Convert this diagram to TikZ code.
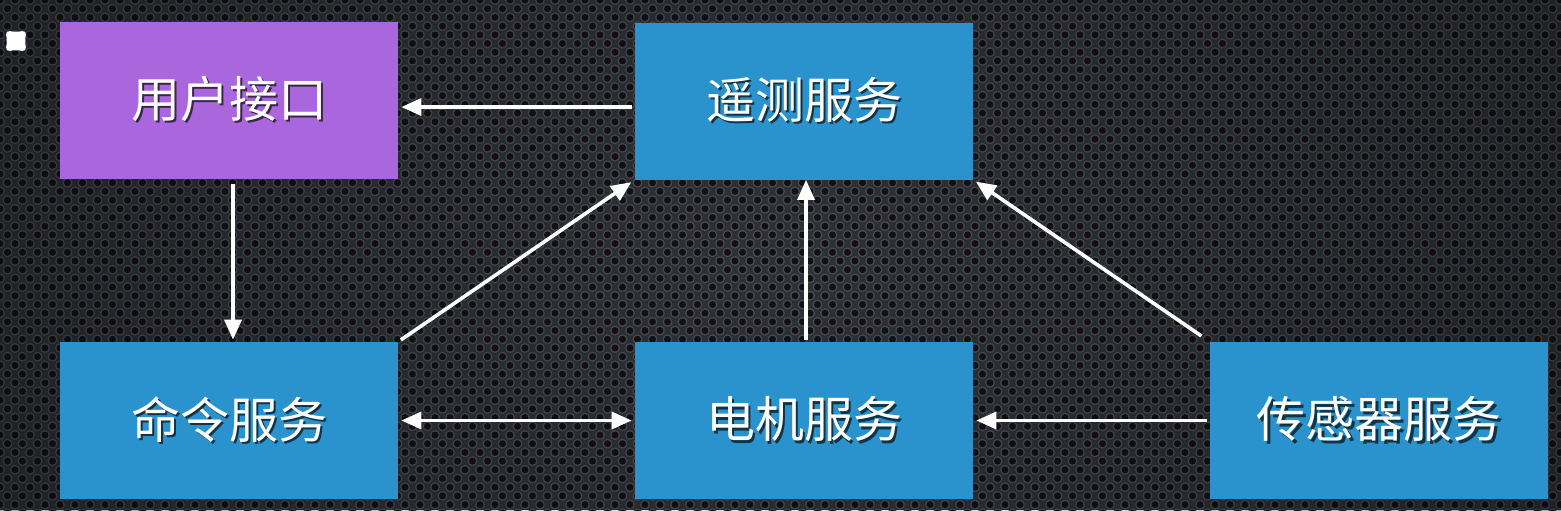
\documentclass[tikz,border=0pt]{standalone}
\usepackage{fontspec}
\newfontfamily\cjk{Noto Sans CJK SC}
\usetikzlibrary{arrows.meta,fadings}
\definecolor{bgc}{HTML}{2E3136}
\definecolor{rimc}{HTML}{4A4E55}
\definecolor{holec}{HTML}{141115}
\definecolor{purplec}{HTML}{AA66DD}
\definecolor{bluec}{HTML}{2A93CE}
\tikzfading[name=vig, inner color=transparent!100, outer color=transparent!60]
\newcommand\shtxt[2]{\makebox[0pt][l]{\raisebox{-1.3pt}{\kern1.3pt\textcolor{#1}{#2}}}#2}
\tikzset{
  box/.style={minimum width=169pt, minimum height=78.5pt, inner sep=0pt, draw=none,
    text=white, font=\cjk\fontsize{24.5}{28}\selectfont},
  tip/.tip={Triangle[length=10pt,width=8.5pt]},
  arr/.style={draw=white, line width=1.8pt, -tip},
  darr/.style={draw=white, line width=1.8pt, tip-tip},
  dotrow/.style={line cap=round, dash pattern=on 0pt off 7.5pt}
}
\begin{document}
\begin{tikzpicture}[x=0.5pt,y=-0.5pt]
\useasboundingbox (0,0) rectangle (1561,510);
\fill[bgc] (0,0) rectangle (1561,510);
% perforated background
\foreach \r [evaluate=\r as \off using {mod(\r,2)*7.5}] in {0,...,59}{
  \draw[dotrow, rimc, line width=5pt] (\off,\r*8.7) -- (1580,\r*8.7);
  \draw[dotrow, holec, line width=3.5pt] (\off,\r*8.7) -- (1580,\r*8.7);
}
\fill[black, path fading=vig] (-300,-500) rectangle (1861,1010);
% icon
\fill[white, rounded corners=2.6pt] (5,30) -- (16,32.4) -- (27,30) -- (24.6,41) -- (27,52)
  -- (16,49.6) -- (5,52) -- (7.4,41) -- cycle;
\node[box, fill=purplec] (ui) at (229,100) {\shtxt{purplec!35!black}{用户接口}};
\node[box, fill=bluec] (tel) at (804,101) {\shtxt{bluec!35!black}{遥测服务}};
\node[box, fill=bluec] (cmd) at (229,420.5) {\shtxt{bluec!35!black}{命令服务}};
\node[box, fill=bluec] (motor) at (804,420.5) {\shtxt{bluec!35!black}{电机服务}};
\node[box, fill=bluec] (sensor) at (1379,420.5) {\shtxt{bluec!35!black}{传感器服务}};
\draw[arr, shorten <=1.5pt, shorten >=1.5pt] ([yshift=-3pt]tel.west) -- ([yshift=-3pt]tel.west -| ui.east);
\draw[arr, shorten <=2.5pt, shorten >=1pt] ([xshift=2pt]ui.south) -- ([xshift=2pt]cmd.north);
\draw[arr, shorten <=1.5pt, shorten >=2pt] (cmd.north east) -- (tel.south west);
\draw[darr, shorten <=1.5pt, shorten >=1.5pt] (cmd.east) -- (motor.west);
\draw[arr, shorten <=1pt, shorten >=0pt] ([xshift=1pt]motor.north) -- ([xshift=1pt]tel.south);
\draw[arr, shorten <=5pt, shorten >=1.5pt] (sensor.north west) -- (tel.south east);
\draw[arr, shorten <=1.5pt, shorten >=1.5pt] (sensor.west) -- (motor.east);
\end{tikzpicture}
\end{document}
